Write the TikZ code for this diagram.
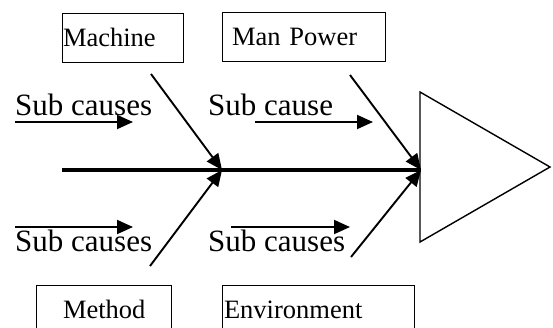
\documentclass[tikz,border=0pt]{standalone}
\usepackage{fontspec}
\setmainfont{Liberation Serif}
\usetikzlibrary{arrows.meta, positioning}

\begin{document}
\begin{tikzpicture}[x=1pt, y=-1pt,
  cat/.style 2 args={draw, line width=1pt, text width=#1, inner xsep=1pt,
                     inner ysep=0pt, minimum height=49pt, align=left,
                     execute at begin node={\hspace*{#2}},
                     font=\fontsize{26.5}{30}\selectfont},
  subtxt/.style={anchor=base west, inner sep=0pt,
                 font=\fontsize{31}{36}\selectfont},
  arr/.style={-{Triangle[length=16pt, width=14pt]}, line width=1.9pt},
  spine/.style={line width=3.2pt}
]
\clip (0,0) rectangle (553,327);

%% Cause boxes
\node[cat={119pt}{0pt}]  (machine) at (122.5,37.5) {Machine};
\node[cat={161pt}{9pt}]  (manpow)  at (303.5,37)   {Man Power};
\node[cat={133pt}{26pt}] (method)  at (103.5,309.5) {Method};
\node[cat={190pt}{1pt}]  (environ) at (318,309.5)  {Environment};

%% Sub cause labels
\node[subtxt] (sub1) at (15,115)  {Sub causes};
\node[subtxt] (sub2) at (208,115) {Sub cause};
\node[subtxt] (sub3) at (15,251)  {Sub causes};
\node[subtxt] (sub4) at (208,251) {Sub causes};

%% Spine and head
\coordinate (tail) at (62,170);
\coordinate (j1)   at (222,170);
\coordinate (j2)   at (421,170);
\coordinate (htop) at (420,92);
\coordinate (hpt)  at (550,167);
\coordinate (hbot) at (420,242);
\draw[line width=1.4pt, line join=miter] (htop) -- (hpt) -- (hbot) -- cycle;
\draw[spine] (tail) -- (j2);

%% Bones
\coordinate (mach-s) at (151,74);
\coordinate (manp-s) at (350,75);
\coordinate (meth-s) at (150,266);
\coordinate (env-s)  at (351,257);
\draw[arr] (mach-s) -- (j1);
\draw[arr] (meth-s) -- (j1);
\draw[arr] (manp-s) -- (j2);
\draw[arr] (env-s)  -- (j2);

%% Sub cause arrows
\coordinate (s1a) at (15,122);  \coordinate (s1b) at (133,122);
\coordinate (s2a) at (255,122); \coordinate (s2b) at (373,122);
\coordinate (s3a) at (15,227);  \coordinate (s3b) at (133,227);
\coordinate (s4a) at (231,227); \coordinate (s4b) at (350,227);
\draw[arr] (s1a) -- (s1b);
\draw[arr] (s2a) -- (s2b);
\draw[arr] (s3a) -- (s3b);
\draw[arr] (s4a) -- (s4b);

\end{tikzpicture}
\end{document}
